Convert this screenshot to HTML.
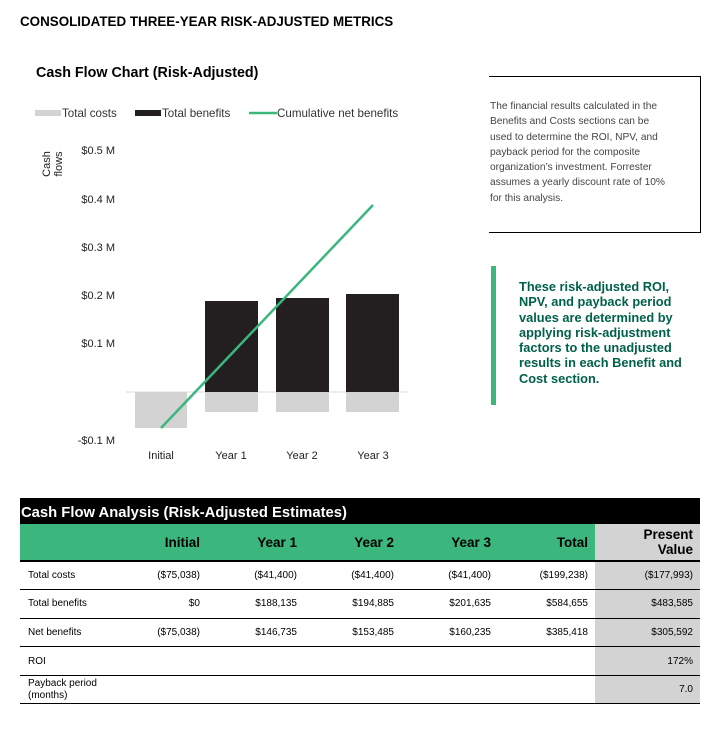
<!DOCTYPE html>
<html><head><meta charset="utf-8"><style>
*{margin:0;padding:0;box-sizing:border-box}
body{width:718px;height:749px;background:#fff;font-family:"Liberation Sans",Arial,sans-serif;position:relative;overflow:hidden;color:#000}
.a{position:absolute;white-space:nowrap}
table{position:absolute;left:20px;top:524px;width:680px;border-collapse:collapse;font-size:10px}
td{height:28.6px;padding:0 7px;text-align:right;border-bottom:1.5px solid #000}
td:first-child{text-align:left;padding-left:8px}
tr.h td{height:37px;background:#3bb77e;font-weight:bold;font-size:13.5px;border-bottom:2px solid #000}
td.pv{background:#d3d3d3}
tr.h td.pv{background:#d3d3d3;line-height:15px}
</style></head><body>
<div class="a" style="left:20px;top:14px;font-size:13.4px;font-weight:bold">CONSOLIDATED THREE-YEAR RISK-ADJUSTED METRICS</div>
<div class="a" style="left:36px;top:65px;font-size:14.3px;font-weight:bold">Cash Flow Chart (Risk-Adjusted)</div>

<svg class="a" style="left:0;top:0" width="480" height="480" font-family="Liberation Sans, Arial, sans-serif">
<rect x="35" y="110" width="26" height="6" fill="#d3d3d3"/>
<text x="62" y="117" font-size="11.6" fill="#333">Total costs</text>
<rect x="135" y="110" width="26" height="6" fill="#231f20"/>
<text x="162" y="117" font-size="11.6" fill="#333">Total benefits</text>
<line x1="249" y1="113" x2="277" y2="113" stroke="#3bb77e" stroke-width="2.5"/>
<text x="277" y="117" font-size="11.6" fill="#333">Cumulative net benefits</text>
<g font-size="11" fill="#222" text-anchor="end">
<text x="115" y="154">$0.5 M</text>
<text x="115" y="203">$0.4 M</text>
<text x="115" y="251">$0.3 M</text>
<text x="115" y="299">$0.2 M</text>
<text x="115" y="347">$0.1 M</text>
<text x="115" y="444">-$0.1 M</text>
</g>
<text transform="translate(50,164) rotate(-90)" font-size="11" text-anchor="middle" fill="#222">Cash</text>
<text transform="translate(62,164) rotate(-90)" font-size="11" text-anchor="middle" fill="#222">flows</text>
<line x1="126" y1="392" x2="408" y2="392" stroke="#e6e6e6" stroke-width="1.5"/>
<rect x="135" y="392" width="52" height="36" fill="#d3d3d3"/>
<rect x="205" y="301" width="53" height="91" fill="#231f20"/>
<rect x="205" y="392" width="53" height="20" fill="#d3d3d3"/>
<rect x="276" y="298" width="53" height="94" fill="#231f20"/>
<rect x="276" y="392" width="53" height="20" fill="#d3d3d3"/>
<rect x="346" y="294" width="53" height="98" fill="#231f20"/>
<rect x="346" y="392" width="53" height="20" fill="#d3d3d3"/>
<line x1="161" y1="428" x2="373" y2="205" stroke="#3bb77e" stroke-width="2.5"/>
<g font-size="11" fill="#222" text-anchor="middle">
<text x="161" y="459">Initial</text>
<text x="231" y="459">Year 1</text>
<text x="302" y="459">Year 2</text>
<text x="373" y="459">Year 3</text>
</g>
</svg>

<div class="a" style="left:489px;top:76px;width:212px;height:157px;border-top:1.5px solid #000;border-right:1.5px solid #000;border-bottom:1.5px solid #000"></div>
<div class="a" style="left:490px;top:99px;font-size:10.2px;line-height:15.3px;color:#444">The financial results calculated in the<br>Benefits and Costs sections can be<br>used to determine the ROI, NPV, and<br>payback period for the composite<br>organization’s investment. Forrester<br>assumes a yearly discount rate of 10%<br>for this analysis.</div>
<div class="a" style="left:491px;top:266px;width:5px;height:139px;background:#3bb77e"></div>
<div class="a" style="left:519px;top:279px;font-size:12.8px;line-height:15.3px;font-weight:bold;color:#00614a">These risk-adjusted ROI,<br>NPV, and payback period<br>values are determined by<br>applying risk-adjustment<br>factors to the unadjusted<br>results in each Benefit and<br>Cost section.</div>

<div class="a" style="left:20px;top:498px;width:680px;height:26px;background:#000;color:#fff;font-size:14.8px;font-weight:bold;padding:7px 0 0 1px">Cash Flow Analysis (Risk-Adjusted Estimates)</div>
<table>
<colgroup><col style="width:112px"><col style="width:75px"><col style="width:97px"><col style="width:97px"><col style="width:97px"><col style="width:97px"><col style="width:105px"></colgroup>
<tr class="h"><td></td><td>Initial</td><td>Year 1</td><td>Year 2</td><td>Year 3</td><td>Total</td><td class="pv">Present<br>Value</td></tr>
<tr><td>Total costs</td><td>($75,038)</td><td>($41,400)</td><td>($41,400)</td><td>($41,400)</td><td>($199,238)</td><td class="pv">($177,993)</td></tr>
<tr><td>Total benefits</td><td>$0</td><td>$188,135</td><td>$194,885</td><td>$201,635</td><td>$584,655</td><td class="pv">$483,585</td></tr>
<tr><td>Net benefits</td><td>($75,038)</td><td>$146,735</td><td>$153,485</td><td>$160,235</td><td>$385,418</td><td class="pv">$305,592</td></tr>
<tr><td>ROI</td><td></td><td></td><td></td><td></td><td></td><td class="pv">172%</td></tr>
<tr><td style="line-height:12px">Payback period<br>(months)</td><td></td><td></td><td></td><td></td><td></td><td class="pv">7.0</td></tr>
</table>
</body></html>
